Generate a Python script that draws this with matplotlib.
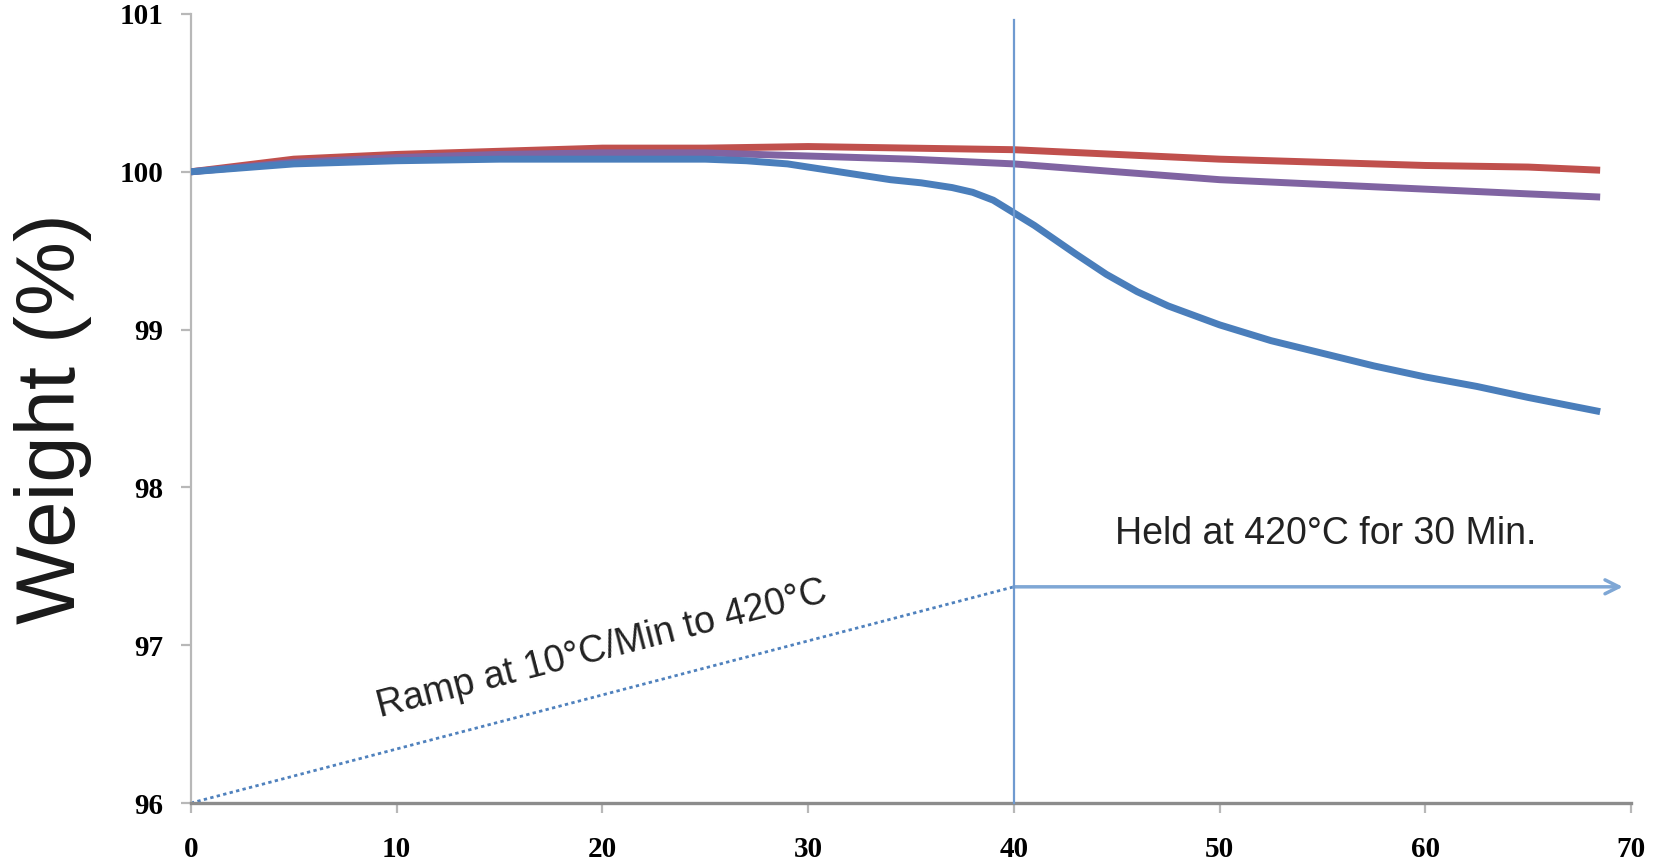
import numpy as np
import matplotlib
matplotlib.use("Agg")
import matplotlib.pyplot as plt

# time (min) and weight (%)
t_blue = [0, 2, 5, 10, 15, 20, 25, 27, 29, 30, 32, 34, 35.5, 37, 38, 39, 40, 41, 42,
          43, 44.5, 46, 47.5, 50, 52.5, 55, 57.5, 60, 62.5, 65, 68.5]
w_blue = [100.00, 100.02, 100.05, 100.07, 100.08, 100.08, 100.08, 100.07, 100.05,
          100.03, 99.99, 99.95, 99.93, 99.90, 99.87, 99.82, 99.74, 99.66, 99.57,
          99.48, 99.35, 99.24, 99.15, 99.03, 98.93, 98.85, 98.77, 98.70, 98.64,
          98.57, 98.48]

t_red = [0, 5, 10, 15, 20, 25, 30, 35, 40, 45, 50, 55, 60, 65, 68.5]
w_red = [100.00, 100.08, 100.11, 100.13, 100.15, 100.15, 100.16, 100.15, 100.14,
         100.11, 100.08, 100.06, 100.04, 100.03, 100.01]

t_purple = [0, 5, 10, 15, 20, 25, 30, 35, 40, 45, 50, 55, 60, 65, 68.5]
w_purple = [100.00, 100.06, 100.09, 100.11, 100.12, 100.12, 100.10, 100.08, 100.05,
            100.00, 99.95, 99.92, 99.89, 99.86, 99.84]

ramp_t = [0, 40]
ramp_w = [96.0, 97.37]
hold_end = 69.6

xticks = [0, 10, 20, 30, 40, 50, 60, 70]
yticks = [96, 97, 98, 99, 100, 101]

fig = plt.figure(figsize=(16.53, 8.63), dpi=100)
ax = fig.add_axes([0.1155, 0.0695, 0.8712, 0.9143])

ax.plot(t_red, w_red, color="#C0504D", lw=5, solid_capstyle="butt", zorder=3)
ax.plot(t_purple, w_purple, color="#8064A2", lw=5, solid_capstyle="butt", zorder=3)
ax.plot(t_blue, w_blue, color="#4A7EBB", lw=5, solid_capstyle="butt", zorder=4)

# ramp / hold annotations
ax.plot(ramp_t, ramp_w, color="#4F81BD", lw=2, linestyle=(0, (1.2, 1.2)), zorder=2)
ax.plot([40, 40], [96, 100.96], color="#6F9AD0", lw=1.6, zorder=5, clip_on=False)
ax.annotate("", xy=(hold_end, ramp_w[1]), xytext=(40, ramp_w[1]),
            arrowprops=dict(arrowstyle="->", color="#7FA7D5", lw=2.5,
                            mutation_scale=25, shrinkA=0, shrinkB=0),
            annotation_clip=False)

ax.text(20.0, 96.97, "Ramp at 10\u00b0C/Min to 420\u00b0C", rotation=14.5,
        rotation_mode="anchor", ha="center", va="center",
        fontsize=27, family="Liberation Sans", color="#222222")
ax.text(44.9, 97.64, "Held at 420\u00b0C for 30 Min.", ha="left", va="baseline",
        fontsize=27, family="Liberation Sans", color="#222222")

ax.set_xlim(0, 70)
ax.set_ylim(96, 101)
ax.set_xticks(xticks)
ax.set_yticks(yticks)

for s in ["top", "right"]:
    ax.spines[s].set_visible(False)
ax.spines["left"].set_color("#B8B8B8")
ax.spines["left"].set_linewidth(1.6)
ax.spines["bottom"].set_color("#8C8C8C")
ax.spines["bottom"].set_linewidth(2.4)

ax.tick_params(axis="y", direction="out", length=7, width=1.6, color="#B8B8B8", pad=13)
ax.tick_params(axis="x", direction="out", length=7, width=1.6, color="#B8B8B8", pad=17)
for lab in ax.get_xticklabels() + ax.get_yticklabels():
    lab.set_family("Liberation Serif")
    lab.set_fontweight("bold")
    lab.set_fontsize(21)

fig.text(0.032, 0.5145, "Weight (%)", rotation=90, ha="center", va="center",
         fontsize=60, family="Liberation Sans", color="#1a1a1a")

fig.savefig("out.png", dpi=100)
